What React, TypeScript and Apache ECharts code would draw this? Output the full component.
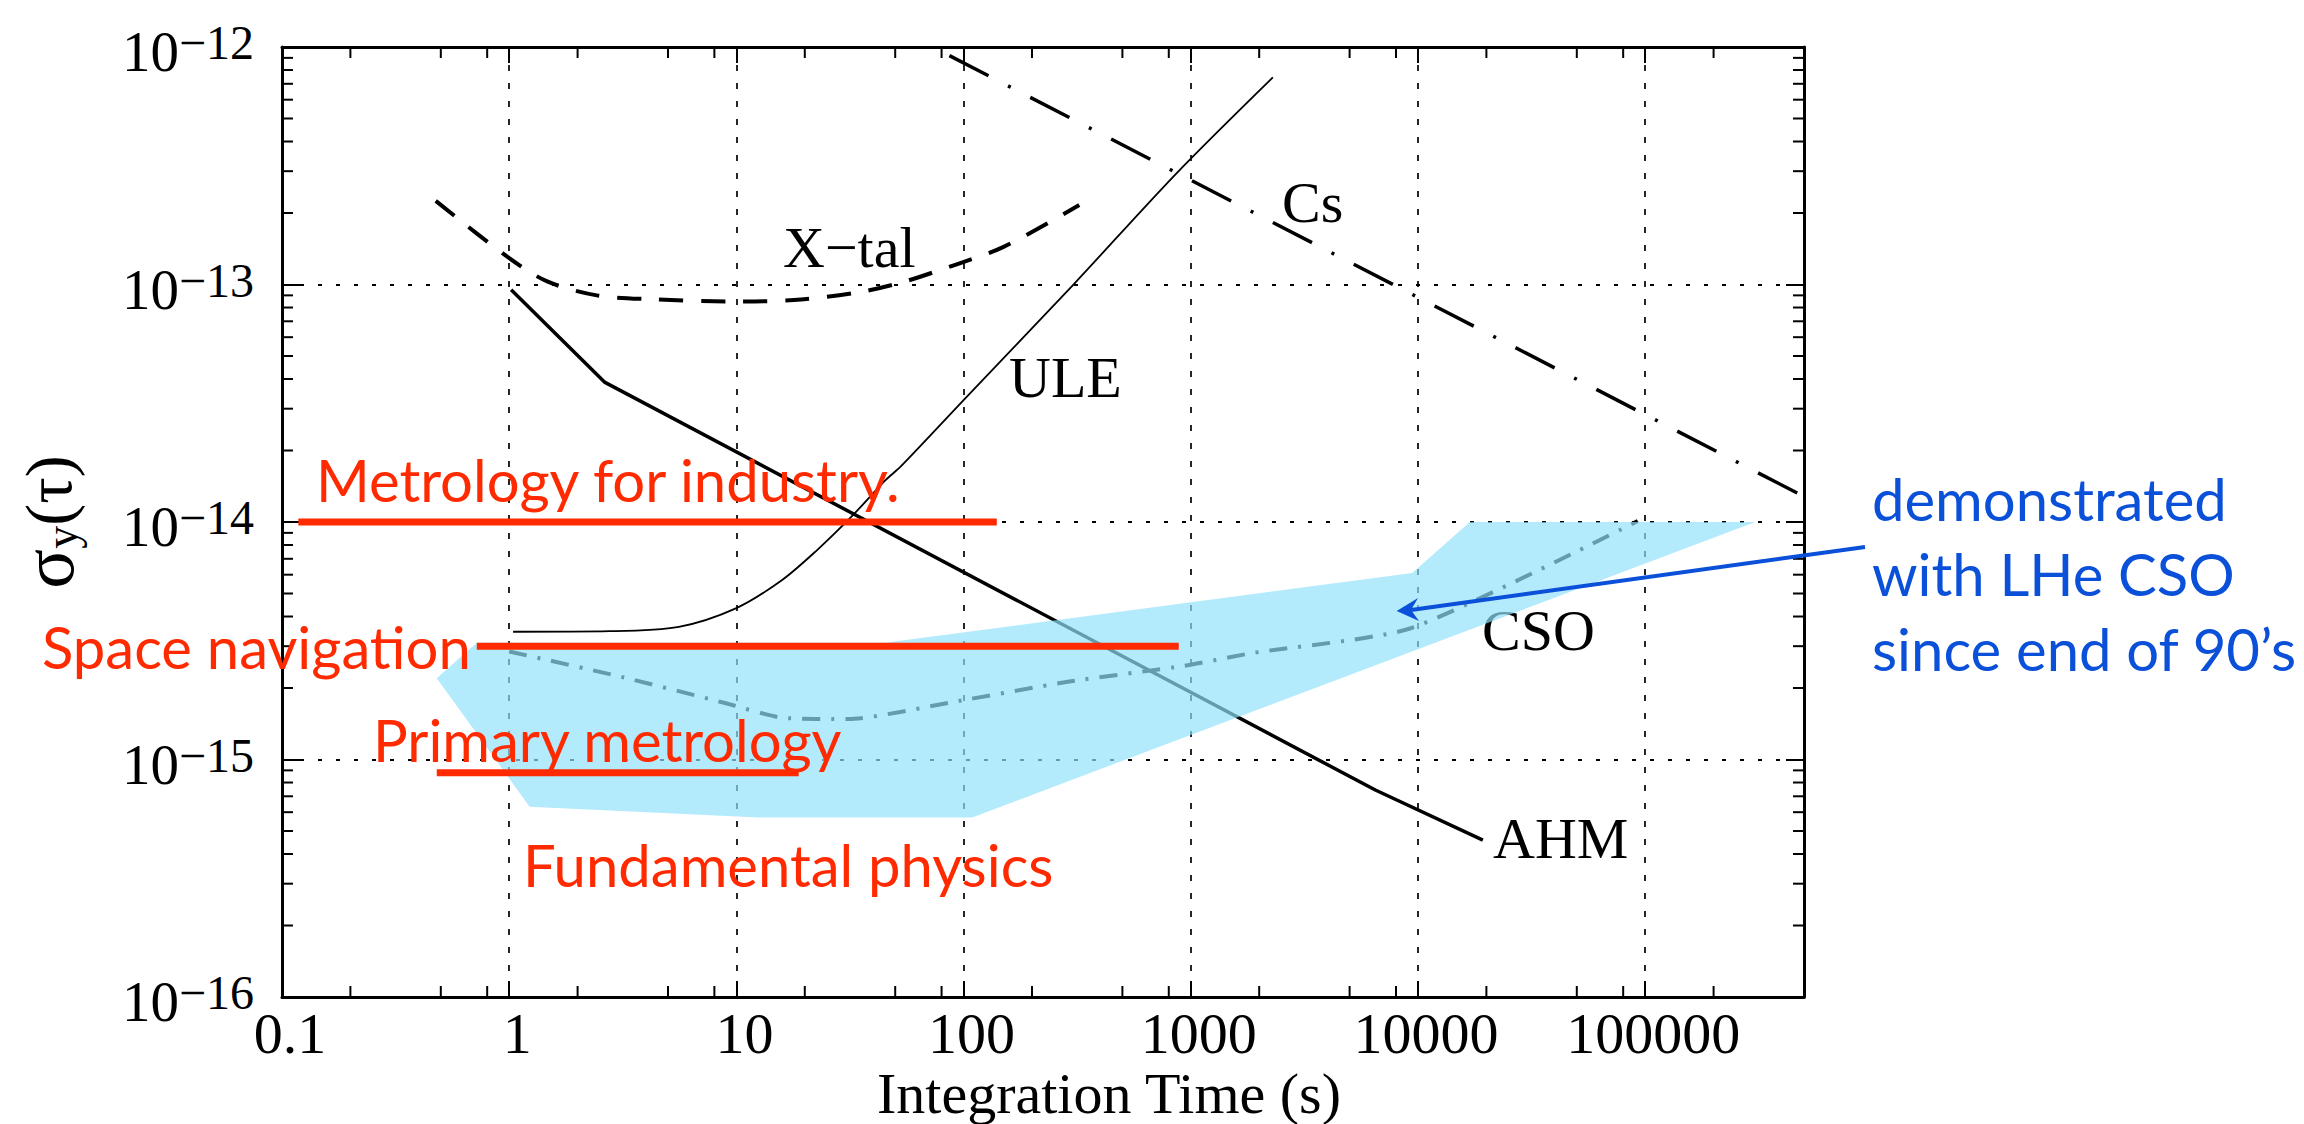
import React, { useEffect, useRef } from 'react';
import * as echarts from 'echarts';

// ---------- data ----------
const xMin = 0.1;
const xMax = 5e5;
const yMin = 1e-16;
const yMax = 1e-12;

const xMinorTicks = [0.2, 0.5, 0.8, 2, 5, 8, 20, 50, 80, 200, 500, 800, 2000, 5000, 8000, 20000, 50000, 80000, 200000];
const yMinorMultipliers = [2, 3, 4, 5, 6, 7, 8, 9];
const yDecades = [1e-16, 1e-15, 1e-14, 1e-13];

const csTau = [86.6, 5e5];
const csSigma = [9.2e-13, 1.28e-14];

const xtalTau = [0.475, 0.98, 1.47, 2.43, 4.18, 9.45, 17.9, 35.2, 55.2, 87, 150, 323];
const xtalSigma = [2.25e-13, 1.31e-13, 1.03e-13, 9.0e-14, 8.67e-14, 8.48e-14, 8.6e-14, 9.3e-14, 1.03e-13, 1.19e-13, 1.44e-13, 2.16e-13];

const uleTau = [1.04, 2.77, 5.58, 10, 15.9, 22.6, 32, 45.3, 52.8, 100, 303, 865, 2297];
const uleSigma = [3.45e-15, 3.47e-15, 3.62e-15, 4.34e-15, 5.7e-15, 7.6e-15, 1.05e-14, 1.5e-14, 1.71e-14, 3.26e-14, 9.95e-14, 2.94e-13, 7.45e-13];

const ahmTau = [1.02, 2.64, 6490, 19300];
const ahmSigma = [9.5e-14, 3.87e-14, 7.44e-16, 4.58e-16];

const csoTau = [1.0, 3.11, 8.9, 15.9, 31, 91, 292, 938, 1837, 9300, 92700];
const csoSigma = [2.85e-15, 2.23e-15, 1.73e-15, 1.5e-15, 1.48e-15, 1.75e-15, 2.13e-15, 2.48e-15, 2.8e-15, 3.57e-15, 1.01e-14];

const bandTau = [0.48, 0.72, 45, 9440, 16900, 3.05e5, 109, 12.6, 1.23];
const bandSigma = [2.2e-15, 3.1e-15, 3.1e-15, 6.1e-15, 1e-14, 1e-14, 5.7e-16, 5.7e-16, 6.33e-16];

const industryTau = [0.118, 140];
const industrySigma = [1e-14, 1e-14];
const navTau = [0.72, 885];
const navSigma = [3e-15, 3e-15];
const primaryTau = [0.48, 18.8];
const primarySigma = [8.8e-16, 8.8e-16];

const referenceLevel = 1e-15;

// ---------- styling ----------
const W = 2304;
const H = 1124;
const SERIF = '"Liberation Serif", "Times New Roman", serif';
const SANS = 'Lato, "Open Sans", sans-serif';
const RED = '#ff2a00';
const BLUE = '#0a50d8';
const BAND = 'rgba(145,225,251,0.69)';

const zip = (a: number[], b: number[]) => a.map((v, i) => [v, b[i]]);

const exponentOf = (v: number) => {
  const e = Math.log10(v);
  const r = Math.round(e);
  return Math.abs(e - r) < 1e-6 ? r : null;
};

export default function App() {
  const ref = useRef<HTMLDivElement>(null);

  useEffect(() => {
    document.body.style.margin = '0';
    if (!ref.current) return;
    const chart = echarts.init(ref.current, undefined, { renderer: 'svg' });

    const yMinorValues: number[] = [];
    yDecades.forEach((d) => yMinorMultipliers.forEach((m) => yMinorValues.push(m * d)));

    const blackLine = (name: string, data: number[][], width: number, type: any, smooth: number | boolean = false, extra: any = {}) => ({
      name,
      type: 'line',
      data,
      symbol: 'none',
      smooth,
      silent: true,
      clip: true,
      z: 3,
      lineStyle: { color: '#000', width, type },
      ...extra,
    });

    const redLine = (name: string, data: number[][]) => ({
      name,
      type: 'line',
      data,
      symbol: 'none',
      silent: true,
      z: 5,
      clip: false,
      lineStyle: { color: RED, width: 7, type: 'solid', cap: 'butt' },
    });

    const option: any = {
      animation: false,
      backgroundColor: '#fff',
      grid: { left: 282, top: 47, right: W - 1804, bottom: H - 997, containLabel: false, outerBoundsMode: 'none' },
      xAxis: [
        {
          type: 'log',
          logBase: 10,
          min: xMin,
          max: xMax,
          position: 'bottom',
          axisLine: { show: true, onZero: false, lineStyle: { color: '#000', width: 3 } },
          axisTick: { show: true, inside: true, length: 16, lineStyle: { color: '#000', width: 2 } },
          minorTick: { show: false },
          axisLabel: {
            show: true,
            margin: 7,
            color: '#000',
            fontFamily: SERIF,
            fontSize: 58,
            lineHeight: 58,
            padding: [0, 0, 0, 16],
            formatter: (v: number) => {
              const e = exponentOf(v);
              if (e === null) return '';
              return e < 0 ? '0.1' : String(Math.round(Math.pow(10, e)));
            },
          },
          splitLine: { show: true, lineStyle: { color: '#000', width: 1.7, type: [6, 12] } },
        },
        {
          type: 'log',
          logBase: 10,
          min: xMin,
          max: xMax,
          position: 'top',
          axisLine: { show: true, onZero: false, lineStyle: { color: '#000', width: 3 } },
          axisTick: { show: true, inside: true, length: 16, lineStyle: { color: '#000', width: 2 } },
          axisLabel: { show: false },
          splitLine: { show: false },
        },
      ],
      yAxis: [
        {
          type: 'log',
          logBase: 10,
          min: yMin,
          max: yMax,
          position: 'left',
          axisLine: { show: true, onZero: false, lineStyle: { color: '#000', width: 3 } },
          axisTick: { show: true, inside: true, length: 18, lineStyle: { color: '#000', width: 2 } },
          axisLabel: {
            show: true,
            margin: 28,
            color: '#000',
            fontFamily: SERIF,
            fontSize: 57,
            padding: [9, 0, 0, 0],
            formatter: (v: number) => {
              const e = exponentOf(v);
              if (e === null) return '';
              return `{b|10}{s|\u2212${-e}}`;
            },
            rich: {
              b: { fontFamily: SERIF, fontSize: 57, color: '#000', lineHeight: 66 },
              s: { fontFamily: SERIF, fontSize: 48, color: '#000', lineHeight: 29, verticalAlign: 'top' },
            },
          },
          splitLine: { show: true, lineStyle: { color: '#000', width: 2, type: [4, 14] } },
        },
        {
          type: 'log',
          logBase: 10,
          min: yMin,
          max: yMax,
          position: 'right',
          axisLine: { show: true, onZero: false, lineStyle: { color: '#000', width: 3 } },
          axisTick: { show: true, inside: true, length: 18, lineStyle: { color: '#000', width: 2 } },
          axisLabel: { show: false },
          splitLine: { show: false },
        },
      ],
      series: [
        {
          name: 'x minor ticks',
          type: 'custom',
          silent: true,
          z: 6,
          data: xMinorTicks.map((v) => [v, 1e-14]),
          renderItem: (params: any, api: any) => {
            const cs = params.coordSys;
            const px = api.coord([api.value(0), 1e-14])[0];
            const st = { stroke: '#000', lineWidth: 2 };
            return {
              type: 'group',
              children: [
                { type: 'line', shape: { x1: px, y1: cs.y + cs.height, x2: px, y2: cs.y + cs.height - 11 }, style: st },
                { type: 'line', shape: { x1: px, y1: cs.y, x2: px, y2: cs.y + 11 }, style: st },
              ],
            };
          },
        },
        {
          name: 'y minor ticks',
          type: 'custom',
          silent: true,
          z: 6,
          data: yMinorValues.map((v) => [1, v]),
          renderItem: (params: any, api: any) => {
            const cs = params.coordSys;
            const py = api.coord([1, api.value(1)])[1];
            const st = { stroke: '#000', lineWidth: 2 };
            return {
              type: 'group',
              children: [
                { type: 'line', shape: { x1: cs.x, y1: py, x2: cs.x + 11, y2: py }, style: st },
                { type: 'line', shape: { x1: cs.x + cs.width, y1: py, x2: cs.x + cs.width - 11, y2: py }, style: st },
              ],
            };
          },
        },
        blackLine('Cs', zip(csTau, csSigma), 3.5, [44, 22, 3, 22], false, {
          markLine: {
            silent: true,
            symbol: 'none',
            label: { show: false },
            lineStyle: { color: '#858585', width: 1.5, type: 'solid' },
            data: [{ yAxis: referenceLevel }],
          },
        }),
        blackLine('X-tal', zip(xtalTau, xtalSigma), 4, [24, 18], 0.3),
        blackLine('ULE', zip(uleTau, uleSigma), 1.8, 'solid', 0.3),
        blackLine('AHM', zip(ahmTau, ahmSigma), 3.5, 'solid'),
        blackLine('CSO', zip(csoTau, csoSigma), 4, [18, 11, 3, 11], 0.2),
        {
          name: 'CSO band',
          type: 'custom',
          silent: true,
          z: 4,
          data: zip(bandTau, bandSigma),
          renderItem: (params: any, api: any) => {
            if (params.dataIndex !== 0) return null;
            const points = bandTau.map((t, i) => api.coord([t, bandSigma[i]]));
            return { type: 'polygon', z2: 100, shape: { points }, style: { fill: BAND } };
          },
        },
        redLine('Metrology for industry', zip(industryTau, industrySigma)),
        redLine('Space navigation', zip(navTau, navSigma)),
        redLine('Primary metrology', zip(primaryTau, primarySigma)),
      ],
      graphic: [
        // curve labels (under the band)
        { type: 'text', x: 783, y: 247, z: 1, silent: true, style: { text: 'X\u2212tal', fontFamily: SERIF, fontSize: 58, fill: '#000', align: 'left', verticalAlign: 'middle' } },
        { type: 'text', x: 1009, y: 377, z: 1, silent: true, style: { text: 'ULE', fontFamily: SERIF, fontSize: 58, fill: '#000', align: 'left', verticalAlign: 'middle' } },
        { type: 'text', x: 1282, y: 202, z: 1, silent: true, style: { text: 'Cs', fontFamily: SERIF, fontSize: 58, fill: '#000', align: 'left', verticalAlign: 'middle' } },
        { type: 'text', x: 1493, y: 838, z: 1, silent: true, style: { text: 'AHM', fontFamily: SERIF, fontSize: 58, fill: '#000', align: 'left', verticalAlign: 'middle' } },
        { type: 'text', x: 1482, y: 630, z: 1, silent: true, style: { text: 'CSO', fontFamily: SERIF, fontSize: 58, fill: '#000', align: 'left', verticalAlign: 'middle' } },
        // axis titles
        { type: 'text', x: 1109, y: 1093, z: 10, silent: true, style: { text: 'Integration Time (s)', fontFamily: SERIF, fontSize: 58, fill: '#000', align: 'center', verticalAlign: 'middle' } },
        {
          type: 'text', x: 48, y: 522, rotation: Math.PI / 2, z: 10, silent: true,
          style: {
            text: '{g|\u03c3}{b|y}{a|(\u03c4)}',
            align: 'center',
            verticalAlign: 'middle',
            rich: {
              g: { fontFamily: SERIF, fontSize: 74, fill: '#000', lineHeight: 72 },
              b: { fontFamily: SERIF, fontSize: 46, fill: '#000', lineHeight: 21, verticalAlign: 'bottom' },
              a: { fontFamily: SERIF, fontSize: 66, fill: '#000', lineHeight: 72 },
            },
          },
        },
        // red application labels
        { type: 'text', x: 316, y: 479, z: 10, silent: true, style: { text: 'Metrology for industry.', fontFamily: SANS, fontSize: 58, fill: RED, align: 'left', verticalAlign: 'middle' } },
        { type: 'text', x: 42, y: 646, z: 10, silent: true, style: { text: 'Space navigation', fontFamily: SANS, fontSize: 58, fill: RED, align: 'left', verticalAlign: 'middle' } },
        { type: 'text', x: 373, y: 739, z: 10, silent: true, style: { text: 'Primary metrology', fontFamily: SANS, fontSize: 58, fill: RED, align: 'left', verticalAlign: 'middle' } },
        { type: 'text', x: 523, y: 864, z: 10, silent: true, style: { text: 'Fundamental physics', fontFamily: SANS, fontSize: 58, fill: RED, align: 'left', verticalAlign: 'middle' } },
        // blue annotation
        { type: 'text', x: 1872, y: 498, z: 10, silent: true, style: { text: 'demonstrated', fontFamily: SANS, fontSize: 58, fill: BLUE, align: 'left', verticalAlign: 'middle' } },
        { type: 'text', x: 1872, y: 573, z: 10, silent: true, style: { text: 'with LHe CSO', fontFamily: SANS, fontSize: 58, fill: BLUE, align: 'left', verticalAlign: 'middle' } },
        { type: 'text', x: 1872, y: 648, z: 10, silent: true, style: { text: 'since end of 90\u2019s', fontFamily: SANS, fontSize: 58, fill: BLUE, align: 'left', verticalAlign: 'middle' } },
        { type: 'line', z: 10, silent: true, shape: { x1: 1865, y1: 547, x2: 1411, y2: 610 }, style: { stroke: BLUE, lineWidth: 4 } },
        { type: 'polygon', z: 10, silent: true, shape: { points: [[1396.7, 611], [1418, 598], [1411, 610], [1419, 621]] }, style: { fill: BLUE } },
      ],
    };

    chart.setOption(option);
    return () => chart.dispose();
  }, []);

  return <div ref={ref} style={{ width: W, height: H }} />;
}
